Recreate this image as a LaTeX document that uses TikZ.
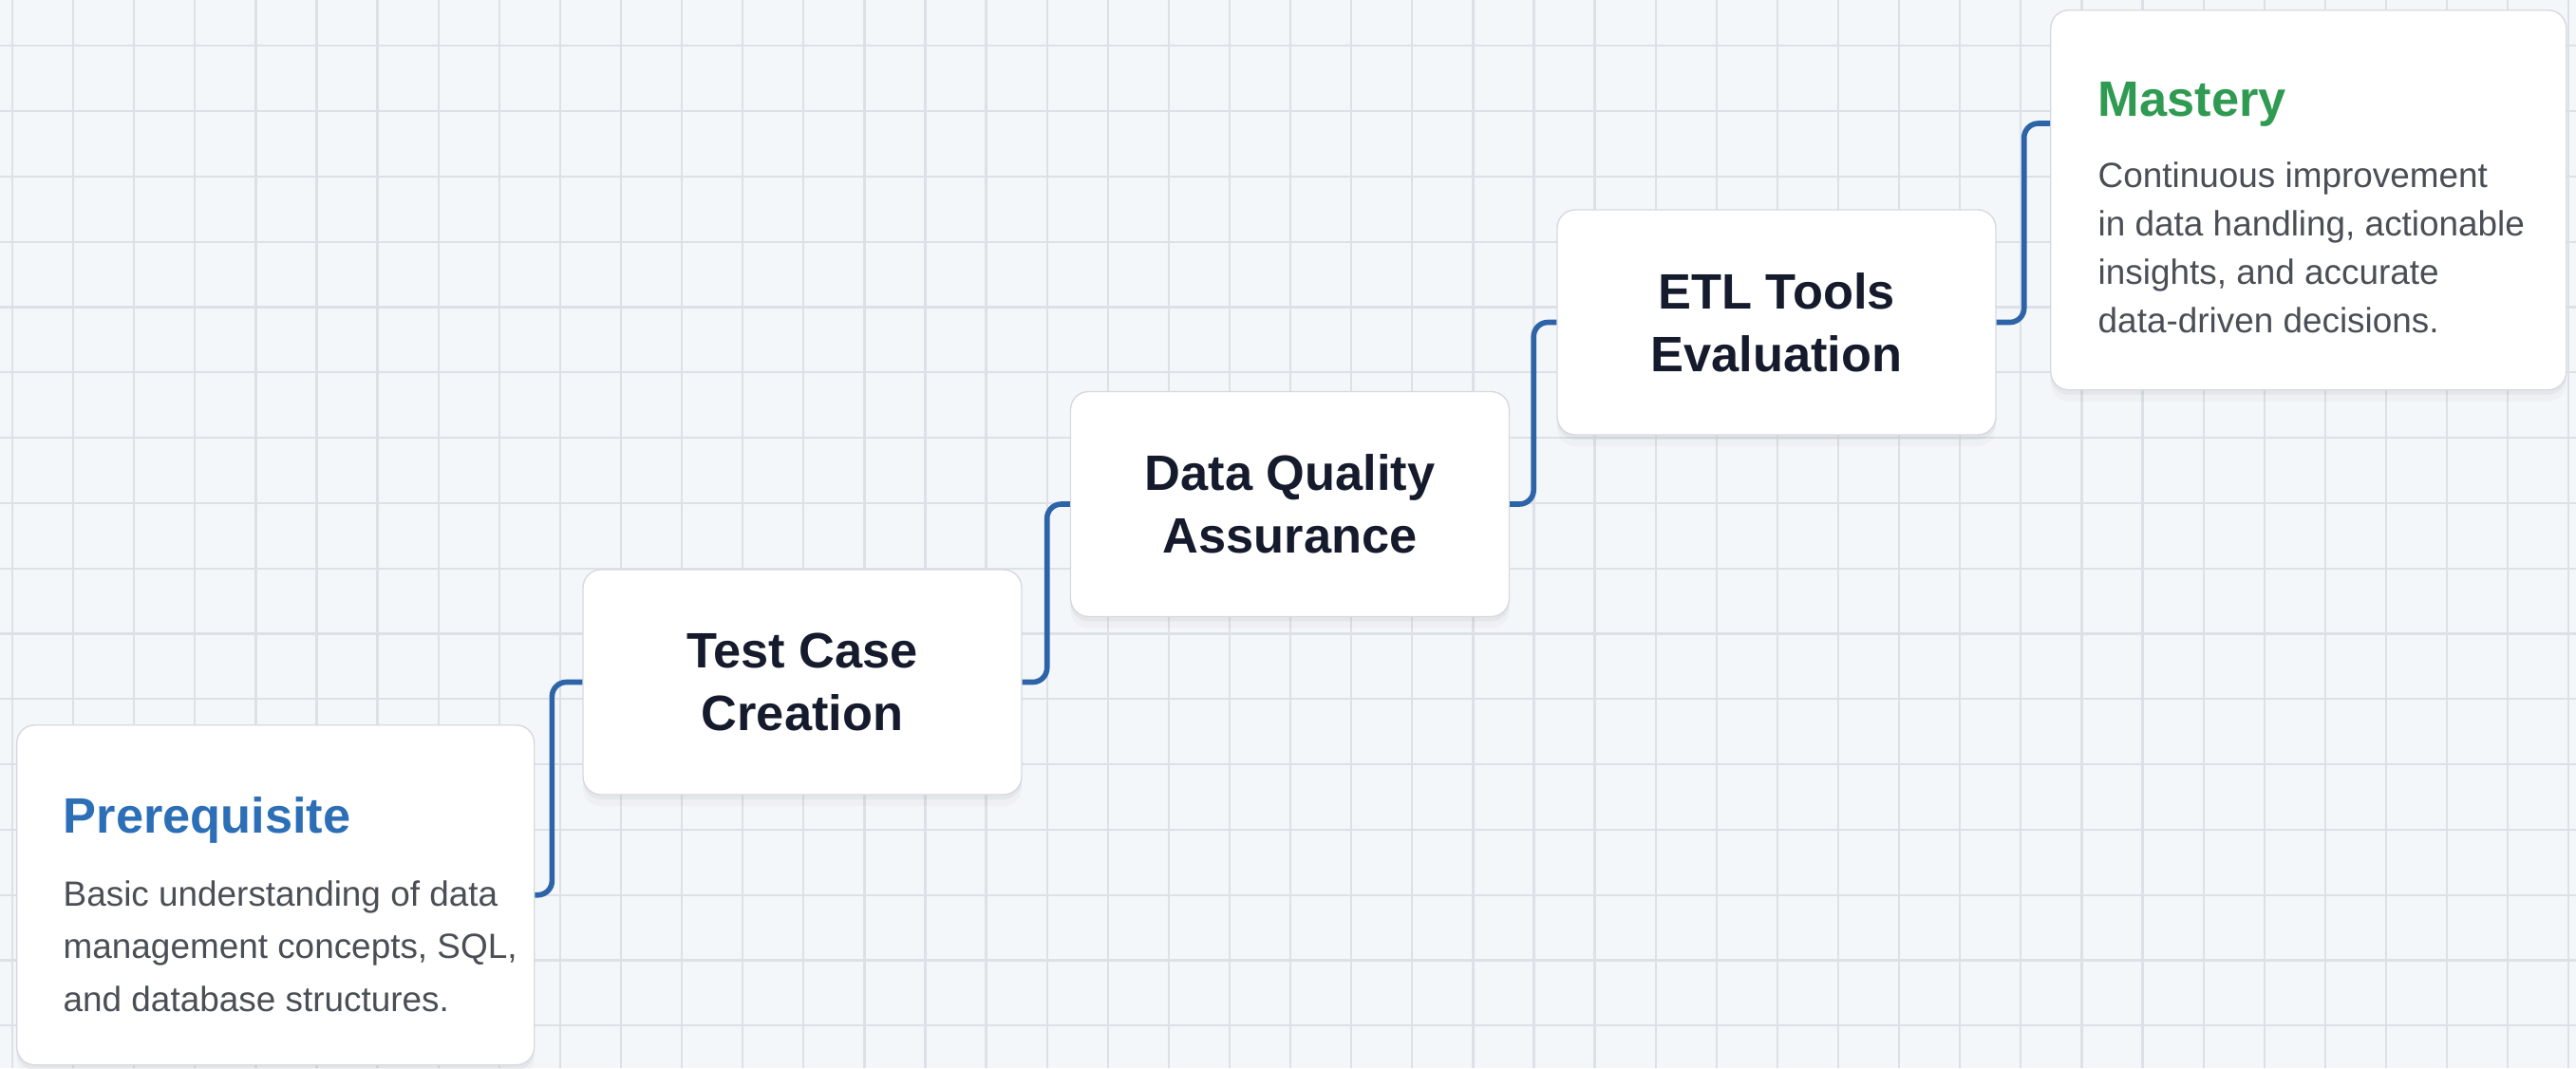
\documentclass[tikz,border=0pt]{standalone}
\usepackage{fontspec}
\setmainfont{Liberation Sans}
\usetikzlibrary{shadows}
\definecolor{paper}{HTML}{F4F7FA}
\definecolor{gridline}{HTML}{DCE1E7}
\definecolor{cardline}{HTML}{D6DAE0}
\definecolor{linkblue}{HTML}{2D64A8}
\definecolor{preblue}{HTML}{2C6FB7}
\definecolor{mastergreen}{HTML}{2F9A52}
\definecolor{navy}{HTML}{151B2C}
\definecolor{bodygrey}{HTML}{4A4E55}
\begin{document}
\begin{tikzpicture}[
		card/.style={draw=cardline,line width=0.4pt,fill=white,rounded corners=0.19cm,
			drop shadow={shadow xshift=0cm,shadow yshift=-0.05cm,opacity=0.08},
			drop shadow={shadow xshift=0cm,shadow yshift=-0.12cm,opacity=0.05}},
		stepcard/.style={card,minimum width=4.62cm,minimum height=2.37cm,align=center,
			text=navy,font=\fontsize{14.9}{18.8}\selectfont\bfseries},
		headline/.style={anchor=base west,inner sep=0pt,font=\fontsize{14.9}{17}\selectfont\bfseries},
		bodyline/.style={anchor=base west,inner sep=0pt,text=bodygrey,font=\fontsize{10.5}{12}\selectfont},
		link/.style={draw=linkblue,line width=1.6pt,rounded corners=0.15cm}
	]
			\def\paperw{27.13}
			\def\paperh{11.25}
			%paper and grid
			\fill[paper] (0,0) rectangle (\paperw,-\paperh);
			\useasboundingbox (0,0) rectangle (\paperw,-\paperh);
			\foreach \k in {0,...,42}
				\draw[gridline,line width=0.65pt] (0.13+0.641*\k,0) -- (0.13+0.641*\k,-\paperh);
			\foreach \k in {0,...,15}
				\draw[gridline,line width=0.65pt] (0,-0.483-0.688*\k) -- (\paperw,-0.483-0.688*\k);
			% prerequisite
			\node[card,anchor=north west,minimum width=5.45cm,minimum height=3.58cm] (pre) at (0.17,-7.63) {};
			\node[headline,text=preblue] (pre-title) at (0.66,-8.77) {Prerequisite};
			\foreach \txt [count=\i] in {{Basic understanding of data},{management concepts, SQL,},{and database structures.}}
				\node[bodyline] (pre-l\i) at (0.66,-8.985-0.555*\i) {\txt};
			% steps
			\foreach \name/\cx/\cy/\txt in {test/8.45/-7.185/{Test Case\\Creation},dqa/13.585/-5.31/{Data Quality\\Assurance},etl/18.71/-3.395/{ETL Tools\\Evaluation}}
				\node[stepcard] (\name) at (\cx,\cy) {\txt};
			% mastery
			\node[card,anchor=north west,minimum width=5.43cm,minimum height=4.00cm] (mastery) at (21.59,-0.10) {};
			\node[headline,text=mastergreen] (mastery-title) at (22.09,-1.22) {Mastery};
			\foreach \txt [count=\i] in {{Continuous improvement},{in data handling, actionable},{insights, and accurate},{data-driven decisions.}}
				\node[bodyline] (mastery-l\i) at (22.09,-1.46-0.51*\i) {\txt};
			% links
			\coordinate (mastery-in) at ([yshift=-1.2cm]mastery.north west);
			\draw[link] (pre.east) -- ++(0.18,0) |- (test.west);
			\draw[link] (test.east) -- ++(0.26,0) |- (dqa.west);
			\draw[link] (dqa.east) -- ++(0.25,0) |- (etl.west);
			\draw[link] (etl.east) -- ++(0.29,0) |- (mastery-in);
		\end{tikzpicture}
\end{document}
